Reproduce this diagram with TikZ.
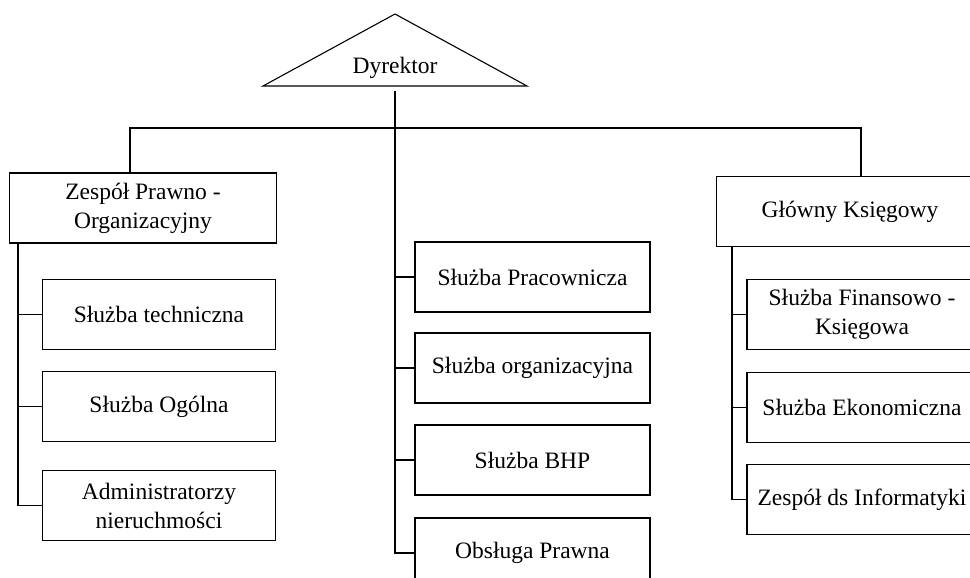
\documentclass[tikz,border=0pt]{standalone}
\usepackage{fontspec}
\setmainfont{Liberation Serif}
\usetikzlibrary{positioning}

\begin{document}
\begin{tikzpicture}[
x=1pt, y=-1pt,
line width=1.1pt,
font=\fontsize{23.5}{29}\selectfont,
unit/.style={draw, rectangle, align=center, inner sep=0pt, outer sep=0pt, minimum height=70pt},
head/.style={unit, minimum width=267pt},
sub/.style={unit, minimum width=233pt}]
\useasboundingbox (0,0) rectangle (970,578);
\clip (0,0) rectangle (970,578);
% Dyrektor
\draw (395,14) -- (527,86) -- (263,86) -- cycle;
\node (dyr) at (395,68) {Dyrektor};
\coordinate (dyrb) at (395,91);
% heads
\node[head] (zpo) at (143,208) {Zespół Prawno -\\Organizacyjny};
\node[head] (gk) at (850,211.5) {Główny Księgowy};
% left column
\node[sub] (tech) at (159,314.5) {Służba techniczna};
\node[sub, below=22pt of tech] (ogol) {Służba Ogólna};
\node[sub, below=29pt of ogol] (admin) {Administratorzy\\nieruchmości};
% middle column
\node[sub, minimum width=235pt] (prac) at (532.5,277) {Służba Pracownicza};
\node[sub, minimum width=235pt, below=21pt of prac] (org) {Służba organizacyjna};
\node[sub, minimum width=235pt, below=22pt of org] (bhp) {Służba BHP};
\node[sub, minimum width=235pt, below=23pt of bhp] (obs) {Obsługa Prawna};
% right column
\node[sub, minimum width=230pt] (fin) at (862,314.5) {Służba Finansowo -\\Księgowa};
\node[sub, minimum width=230pt, below=23pt of fin] (eko) {Służba Ekonomiczna};
\node[sub, minimum width=230pt, below=22pt of eko] (inf) {Zespół ds Informatyki};
% connectors
\coordinate (barL) at (130,128);
\coordinate (barR) at (861,128);
\coordinate (spl) at (18,243);
\coordinate (spr) at (732,250);
\draw (barL |- zpo.north) -- (barL) -- (barR) -- (barR |- gk.north);
\draw (dyrb) |- (obs.west);
\foreach \n in {prac,org,bhp} \draw (dyrb |- \n.west) -- (\n.west);
\draw (spl |- zpo.south) |- (admin.west);
\foreach \n in {tech,ogol} \draw (spl |- \n.west) -- (\n.west);
\draw (spr |- gk.south) |- (inf.west);
\foreach \n in {fin,eko} \draw (spr |- \n.west) -- (\n.west);
\end{tikzpicture}
\end{document}
